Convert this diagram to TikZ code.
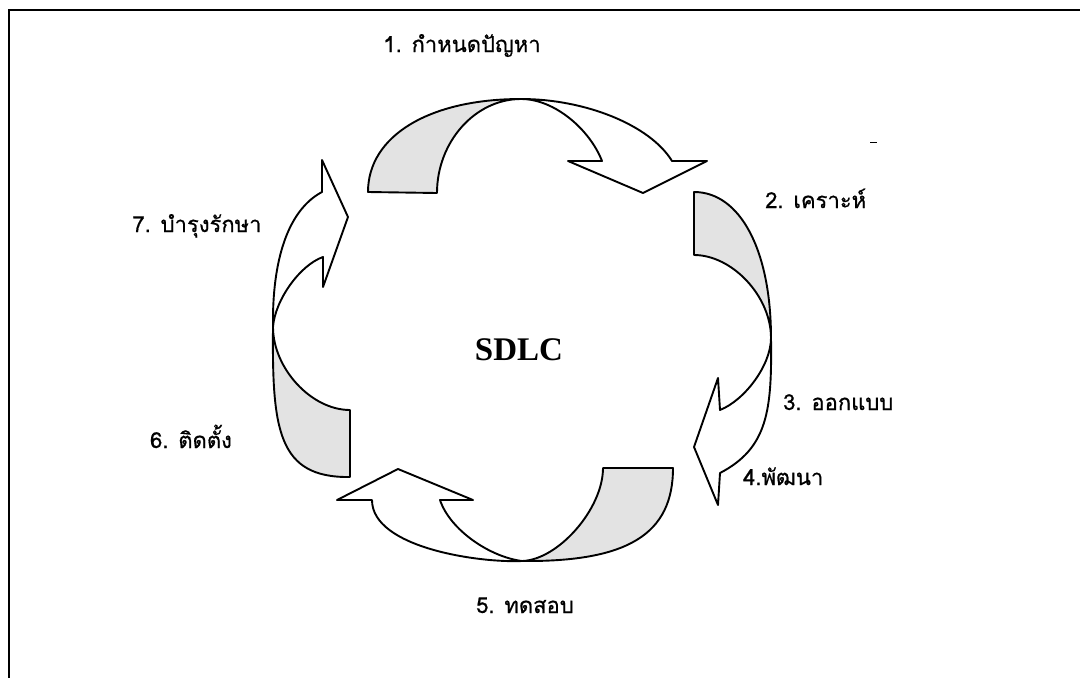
\documentclass[tikz,border=0pt]{standalone}
\usepackage{fontspec}
\newfontfamily\thaifont[Script=Thai,FakeBold=0.6]{Loma}
\newfontfamily\sdlcfont{Liberation Serif}
\begin{document}
\begin{tikzpicture}[x=1pt,y=-1pt,
  ribbon/.style={draw=black, line width=1.9pt, line join=round},
  tailpart/.style={ribbon, fill=black!11},
  headpart/.style={ribbon, fill=white},
  lbl/.style={font=\thaifont\fontsize{22}{25}\selectfont, inner sep=0pt},
]
\useasboundingbox (0,0) rectangle (1080,678);
\fill[white] (0,0) rectangle (1080,678);
\draw[line width=1.8pt] (1080,10) -- (9,10) -- (9,678);
\draw[line width=1pt] (870,142) -- (877,142);

% arrow 1 (top)
\path[tailpart] (368,192) -- (437,193) .. controls (437,142) and (475,99) .. (521,99)
  .. controls (429,99) and (368,136) .. (368,192) -- cycle;
\path[headpart] (521,99) .. controls (585,99) and (650,125) .. (672,161) -- (707,161)
  -- (643,193) -- (568,161) -- (602,161) .. controls (590,130) and (555,99) .. (521,99) -- cycle;

% arrow 2 (right)
\path[tailpart] (694,192) .. controls (740,192) and (771,250) .. (771,338)
  .. controls (771,296) and (732,255) .. (694,255) -- cycle;
\path[headpart] (771,338) .. controls (772,410) and (768,448) .. (720,473) -- (718,505)
  -- (694,447) -- (718,378) -- (720,410) .. controls (745,400) and (771,365) .. (771,338) -- cycle;

% arrow 3 (bottom)
\path[tailpart] (603,468) -- (673,468) .. controls (673,534) and (628,562) .. (522,561)
  .. controls (558,560) and (603,509) .. (603,468) -- cycle;
\path[headpart] (522,561) .. controls (480,563) and (372,548) .. (372,500) -- (337,500)
  -- (398,469) -- (473,500) -- (440,500) .. controls (450,530) and (490,557) .. (522,561) -- cycle;

% arrow 4 (left)
\path[tailpart] (350,410) -- (350,477) .. controls (278,478) and (272,430) .. (273,327)
  .. controls (273,368) and (311,410) .. (350,410) -- cycle;
\path[headpart] (273,327) .. controls (272,260) and (288,210) .. (322,192) -- (322,160)
  -- (348,217) -- (323,287) -- (323,257) .. controls (300,265) and (275,300) .. (273,327) -- cycle;

% labels
\node[lbl, anchor=base] (l1) at (462,52) {1. กำหนดปัญหา};
\node[lbl, anchor=base west] (l2) at (765,208) {2. เคราะห์};
\node[lbl, anchor=base west] (l3) at (783,410) {3. ออกแบบ};
\node[lbl, anchor=base west] (l4) at (743,485) {4.พัฒนา};
\node[lbl, anchor=base] (l5) at (525,613) {5. ทดสอบ};
\node[lbl, anchor=base] (l6) at (191,448) {6. ติดตั้ง};
\node[lbl, anchor=base] (l7) at (197,232) {7. บำรุงรักษา};
\node[font=\sdlcfont\bfseries\fontsize{33}{36}\selectfont, inner sep=0pt] (sdlc) at (519,350) {SDLC};
\end{tikzpicture}
\end{document}
